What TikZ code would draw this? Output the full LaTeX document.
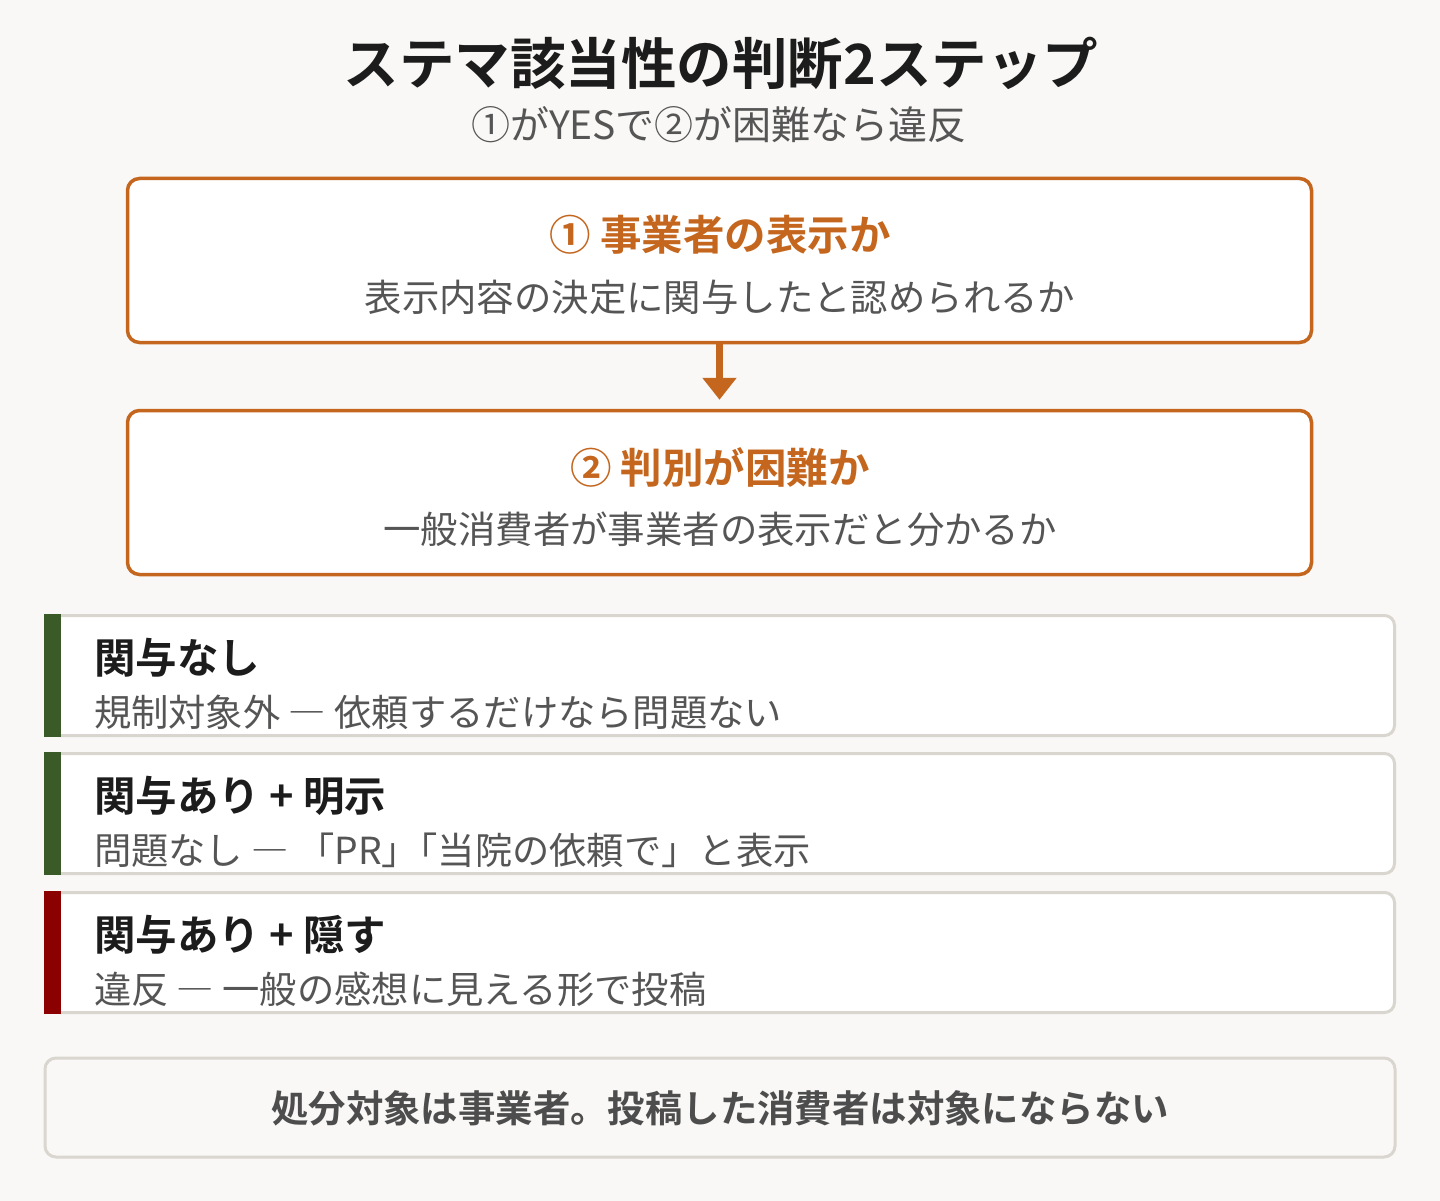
\documentclass[tikz,border=0pt]{standalone}
\usepackage{fontspec}
\setmainfont{Noto Sans CJK JP}[BoldFont={Noto Sans CJK JP Bold}]
\usetikzlibrary{arrows.meta}
\definecolor{bgc}{HTML}{F9F8F6}
\definecolor{orangec}{HTML}{C4661E}
\definecolor{greenc}{HTML}{3A5A27}
\definecolor{redc}{HTML}{8B0000}
\definecolor{borderc}{HTML}{D9D6CF}
\definecolor{darkc}{HTML}{1C1C1C}
\definecolor{greyc}{HTML}{555555}
\definecolor{footc}{HTML}{4D4D4D}
\newcommand\fwdash{{\addfontfeature{RawFeature=+fwid}—}}
\tikzset{
  txt/.style={inner sep=0pt, outer sep=0pt},
  stepbox/.style={draw=orangec, line width=3.5pt, fill=white, rounded corners=12pt, inner sep=0pt},
  cardline/.style={draw=borderc, line width=3pt, fill=white, rounded corners=10pt},
  footbox/.style={draw=borderc, line width=3pt, fill=bgc, rounded corners=11pt, inner sep=0pt},
  steptitle/.style={txt, text=orangec, font=\bfseries\fontsize{41.5pt}{41.5pt}\selectfont},
  stepsub/.style={txt, text=greyc, font=\fontsize{37.4pt}{37.4pt}\selectfont},
  cardtitle/.style={txt, anchor=west, text=darkc, font=\bfseries\fontsize{41.5pt}{41.5pt}\selectfont},
  cardsub/.style={txt, anchor=west, text=greyc, font=\fontsize{37.3pt}{37.3pt}\selectfont},
}
\begin{document}
\begin{tikzpicture}[x=1pt,y=-1pt]
\fill[bgc] (0,0) rectangle (1440,1201);
\useasboundingbox (0,0) rectangle (1440,1201);

% title
\node[txt, text=darkc, font=\bfseries\fontsize{55.5pt}{55.5pt}\selectfont] (title) at (721,63) {ステマ該当性の判断2ステップ};
\node[txt, text=greyc, font=\fontsize{39pt}{39pt}\selectfont] (subtitle) at (719,125) {①がYESで②が困難なら違反};

% steps
\node[stepbox, minimum width=1184pt, minimum height=164pt] (s1) at (719.5,260.5) {};
\node[steptitle] (s1t) at (720,235) {① 事業者の表示か};
\node[stepsub] (s1s) at (720,297) {表示内容の決定に関与したと認められるか};

\node[stepbox, minimum width=1184pt, minimum height=164pt] (s2) at (719.5,492.5) {};
\node[steptitle] (s2t) at (720,467) {② 判別が困難か};
\node[stepsub] (s2s) at (720,529) {一般消費者が事業者の表示だと分かるか};

\draw[orangec, line width=7pt, -{Triangle[width=33pt,length=22pt]}, shorten >=9pt] (s1.south) -- (s2.north);

% cards
\foreach \y/\c in {614/greenc, 752/greenc, 891/redc}{
  \draw[cardline] (58,\y+1.5) -- (1394.5,\y+1.5) -- (1394.5,\y+121.5) -- (58,\y+121.5);
  \fill[\c] (44,\y) rectangle (61,\y+123);
}
\node[cardtitle] (c1t) at (94,658) {関与なし};
\node[cardsub] (c1s) at (94,712) {規制対象外 \fwdash{} 依頼するだけなら問題ない};
\node[cardtitle] (c2t) at (94,796) {関与あり + 明示};
\node[cardsub] (c2s) at (94,850) {問題なし \fwdash{} 「PR」\kern-0.5em「当院の依頼で」と表示};
\node[cardtitle] (c3t) at (94,935) {関与あり + 隠す};
\node[cardsub] (c3s) at (94,989) {違反 \fwdash{} 一般の感想に見える形で投稿};

% footer
\node[footbox, minimum width=1350pt, minimum height=99pt] (foot) at (720,1107.5) {};
\node[txt, text=footc, font=\bfseries\fontsize{37.4pt}{37.4pt}\selectfont] (foott) at (720,1108) {処分対象は事業者。投稿した消費者は対象にならない};
\end{tikzpicture}
\end{document}
